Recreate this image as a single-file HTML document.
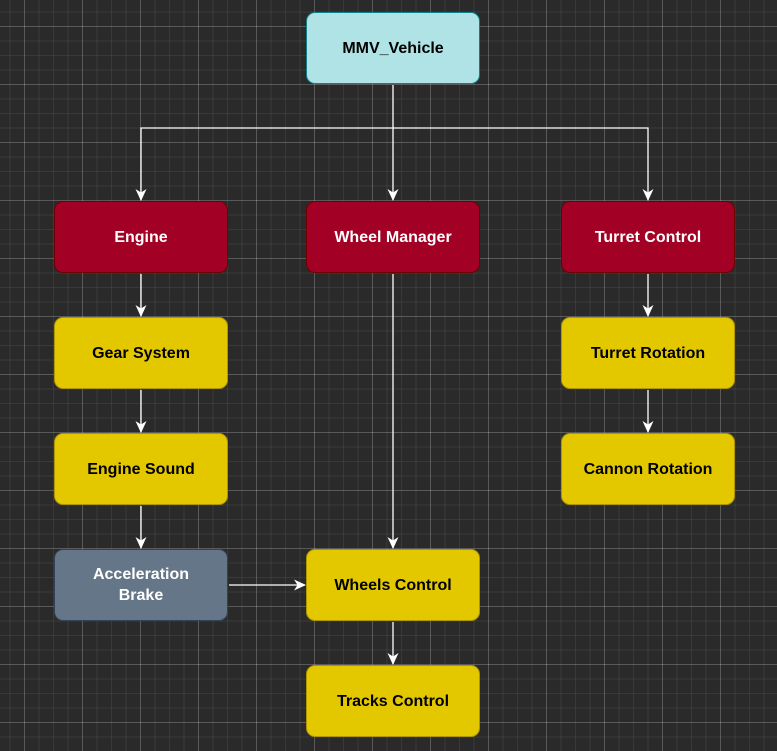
<!DOCTYPE html>
<html><head><style>
html,body{margin:0;padding:0}
body{width:777px;height:751px;overflow:hidden;background:#2a2a2a;position:relative;font-family:"Liberation Sans",sans-serif;
background-image:
linear-gradient(to right,rgba(255,255,255,0.16) 1px,transparent 1px),
linear-gradient(to bottom,rgba(255,255,255,0.16) 1px,transparent 1px),
linear-gradient(to right,rgba(255,255,255,0.07) 1px,transparent 1px),
linear-gradient(to bottom,rgba(255,255,255,0.07) 1px,transparent 1px);
background-size:58px 58px,58px 58px,14.5px 14.5px,14.5px 14.5px;
background-position:24px 26px,24px 26px,24px 26px,24px 26px;}
.b{position:absolute;width:172px;height:70px;border-radius:9px;display:flex;align-items:center;justify-content:center;text-align:center;font-weight:bold;font-size:16px;line-height:21px}
.r{background:#a20025;border:1px solid #6f0000;color:#fff}
.y{background:#e3c800;border:1px solid #b09500;color:#000}
.g{background:#647687;border:1px solid #314354;color:#fff}
.c{background:#b0e3e6;border:1px solid #0e8088;color:#000}
svg{position:absolute;left:0;top:0}
</style></head><body>
<svg width="777" height="751">
<defs><marker id="a" markerWidth="12" markerHeight="12" refX="11" refY="6" orient="auto" markerUnits="userSpaceOnUse"><path d="M0,0.5 L12,6 L0,11.5 L3.5,6 Z" fill="#fff"/></marker></defs>
<g stroke="#fff" stroke-width="1.3" fill="none">
<path d="M393,85 V200" marker-end="url(#a)"/>
<path d="M393,128 H141 V200" marker-end="url(#a)"/>
<path d="M393,128 H648 V200" marker-end="url(#a)"/>
<path d="M141,274 V316" marker-end="url(#a)"/>
<path d="M141,390 V432" marker-end="url(#a)"/>
<path d="M141,506 V548" marker-end="url(#a)"/>
<path d="M648,274 V316" marker-end="url(#a)"/>
<path d="M648,390 V432" marker-end="url(#a)"/>
<path d="M393,274 V548" marker-end="url(#a)"/>
<path d="M229,585 H305" marker-end="url(#a)"/>
<path d="M393,622 V664" marker-end="url(#a)"/>
</g></svg>
<div class="b c" style="left:306px;top:12px">MMV_Vehicle</div>
<div class="b r" style="left:54px;top:201px">Engine</div>
<div class="b r" style="left:306px;top:201px">Wheel Manager</div>
<div class="b r" style="left:561px;top:201px">Turret Control</div>
<div class="b y" style="left:54px;top:317px">Gear System</div>
<div class="b y" style="left:54px;top:433px">Engine Sound</div>
<div class="b g" style="left:54px;top:549px">Acceleration<br>Brake</div>
<div class="b y" style="left:561px;top:317px">Turret Rotation</div>
<div class="b y" style="left:561px;top:433px">Cannon Rotation</div>
<div class="b y" style="left:306px;top:549px">Wheels Control</div>
<div class="b y" style="left:306px;top:665px">Tracks Control</div>
</body></html>
